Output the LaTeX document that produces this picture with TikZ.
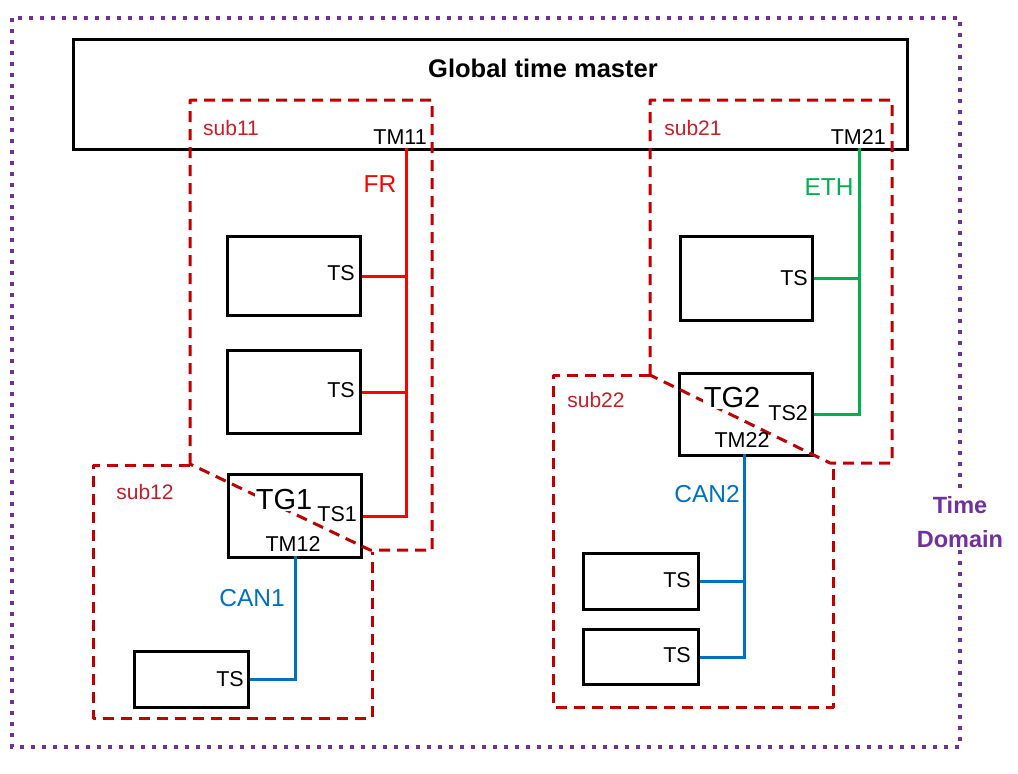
\documentclass[tikz,border=0pt]{standalone}
\usepackage{fontspec}
\setmainfont{Liberation Sans}
\definecolor{subred}{RGB}{192,0,0}
\definecolor{sublbl}{RGB}{200,30,40}
\definecolor{frred}{RGB}{255,0,0}
\definecolor{ethgreen}{RGB}{0,176,80}
\definecolor{canblue}{RGB}{0,112,192}
\definecolor{tdpurple}{RGB}{112,48,160}
\begin{document}
\begin{tikzpicture}[x=1pt,y=-1pt,
  box/.style={draw=black,line width=3pt,anchor=north west,inner sep=0pt},
  subarea/.style={draw=subred,line width=3pt,dash pattern=on 11pt off 7pt,line join=round},
  sublabel/.style={text=sublbl,font=\fontsize{21}{24}\selectfont,inner sep=0pt},
  tlbl/.style={text=black,font=\fontsize{21.5}{24}\selectfont,inner sep=1pt},
  tglbl/.style={text=black,font=\fontsize{29}{32}\selectfont,inner sep=1pt},
  buslbl/.style={font=\fontsize{24.5}{27}\selectfont,inner sep=1pt},
  frline/.style={draw=frred,line width=3pt},
  ethline/.style={draw=ethgreen,line width=3pt},
  canline/.style={draw=canblue,line width=3pt}]
\useasboundingbox (0,0) rectangle (1018,774);
% outer time domain
\draw[tdpurple,line width=4pt,dash pattern=on 4pt off 7pt] (12,18) rectangle (960,747);
\node[fill=white,text=tdpurple,font=\bfseries\fontsize{23.5}{34}\selectfont,align=center,inner sep=2pt] (td) at (960,522) {Time\\Domain};
% global time master
\node[box,line width=3.4pt,minimum width=834pt,minimum height=110pt] (gtm) at (72,38) {};
\node[font=\bfseries\fontsize{25.5}{28}\selectfont,inner sep=0pt] (gtmt) at (543,68) {Global time master};
% boxes
\node[box,minimum width=133pt,minimum height=79pt] (b1) at (226,235) {};
\node[box,minimum width=133pt,minimum height=83pt] (b2) at (226,349) {};
\node[box,minimum width=133pt,minimum height=83pt] (tg1) at (227,473) {};
\node[box,minimum width=114pt,minimum height=56pt] (b5) at (133,650) {};
\node[box,minimum width=132pt,minimum height=84pt] (b3) at (679,235) {};
\node[box,minimum width=133pt,minimum height=82pt] (tg2) at (678,372) {};
\node[box,minimum width=115pt,minimum height=56pt] (b6) at (582,552) {};
\node[box,minimum width=115pt,minimum height=55pt] (b7) at (582,628) {};
% sub areas
\draw[subarea] (190,464) -- (190,100) -- (432,100) -- (432,550) -- (370,550) -- (190,464);
\draw[subarea] (190,465) -- (93,465) -- (93,718) -- (372,718) -- (372,552);
\draw[subarea] (650,375) -- (650,100) -- (892,100) -- (892,463) -- (830,463) -- (650,375);
\draw[subarea] (650,375) -- (553,375) -- (553,707) -- (833,707) -- (833,465);
\node[sublabel] (s11) at (231,128) {sub11};
\node[sublabel] (s12) at (145,492) {sub12};
\node[sublabel] (s21) at (693,128) {sub21};
\node[sublabel] (s22) at (596,400) {sub22};
% TM labels
\node[tlbl,fill=white,anchor=south east,inner xsep=3pt] (tm11) at (430,146) {TM11};
\node[tlbl,fill=white,anchor=south east,inner xsep=3pt] (tm21) at (889,146) {TM21};
\coordinate (frtop) at (406,148);
\coordinate (ethtop) at (859,148);
\coordinate (can1top) at (295,556);
\coordinate (can2top) at (744,454);
% FR bus
\draw[frline] (tg1.east) -| (frtop);
\draw[frline] (b1.east) -- (b1.east -| frtop);
\draw[frline] (b2.east) -- (b2.east -| frtop);
\node[buslbl,text=frred] (fr) at (380,184) {FR};
% ETH bus
\draw[ethline] (tg2.east) -| (ethtop);
\draw[ethline] (b3.east) -- (b3.east -| ethtop);
\node[buslbl,text=ethgreen] (eth) at (829,187) {ETH};
% CAN buses
\draw[canline] (can1top) |- (b5.east);
\node[buslbl,text=canblue] (can1) at (252,598) {CAN1};
\draw[canline] (can2top) |- (b7.east);
\draw[canline] (b6.east) -- (b6.east -| can2top);
\node[buslbl,text=canblue] (can2) at (707,494) {CAN2};
% box texts
\node[tlbl,anchor=east] (ts1a) at (356,273) {TS};
\node[tlbl,anchor=east] (ts1b) at (356,390) {TS};
\node[tglbl,fill=white] (tg1t) at (284,500) {TG1};
\node[tlbl,anchor=east] (ts1t) at (358,514) {TS1};
\node[tlbl] (tm12) at (293,544) {TM12};
\node[tlbl,anchor=east] (ts5) at (245,679) {TS};
\node[tlbl,anchor=east] (ts3) at (809,278) {TS};
\node[tglbl,fill=white] (tg2t) at (732,398) {TG2};
\node[tlbl,anchor=east] (ts2t) at (809,413) {TS2};
\node[tlbl] (tm22) at (742,440) {TM22};
\node[tlbl,anchor=east] (ts6) at (692,580) {TS};
\node[tlbl,anchor=east] (ts7) at (692,655) {TS};
\end{tikzpicture}
\end{document}
